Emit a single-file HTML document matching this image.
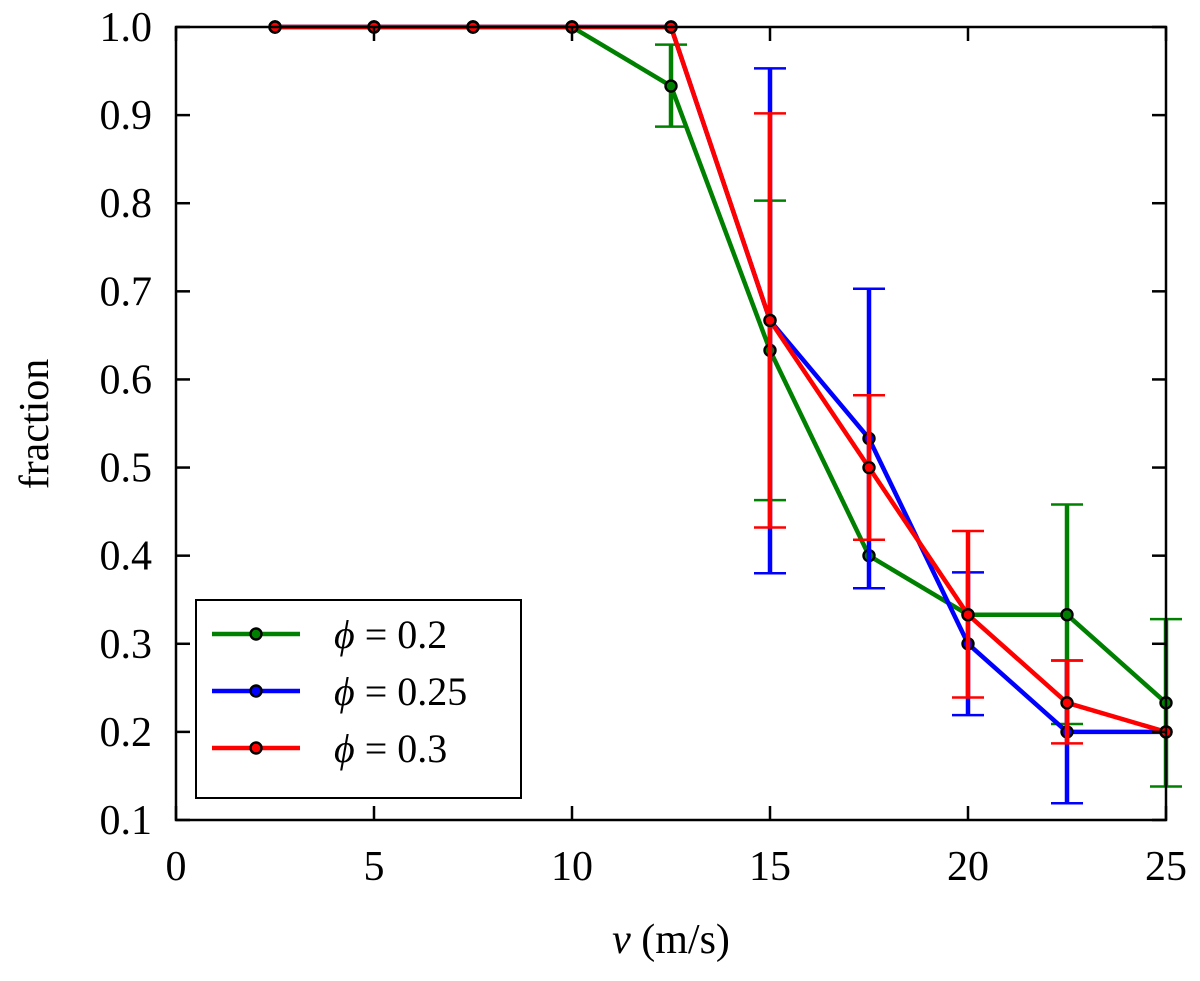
<!DOCTYPE html>
<html><head><meta charset="utf-8"><style>
html,body{margin:0;padding:0;background:#fff;}
svg{display:block;}
text{font-family:"Liberation Serif",serif;fill:#000;}
</style></head><body>
<svg id="chart" width="1200" height="981"></svg>
<script>
const xVals=[2.5,5,7.5,10,12.5,15,17.5,20,22.5,25];
const greenY=[1,1,1,1,0.933,0.633,0.4,0.333,0.333,0.233];
const greenLo=[1,1,1,1,0.887,0.463,0.4,0.333,0.209,0.138];
const greenHi=[1,1,1,1,0.98,0.803,0.4,0.333,0.458,0.328];
const blueY=[1,1,1,1,1,0.667,0.533,0.3,0.2,0.2];
const blueLo=[1,1,1,1,1,0.38,0.363,0.219,0.119,0.2];
const blueHi=[1,1,1,1,1,0.953,0.703,0.381,0.281,0.2];
const redY=[1,1,1,1,1,0.667,0.5,0.333,0.233,0.2];
const redLo=[1,1,1,1,1,0.432,0.418,0.239,0.187,0.2];
const redHi=[1,1,1,1,1,0.902,0.582,0.428,0.281,0.2];
const xTicks=[0,5,10,15,20,25];
const yTicks=[0.1,0.2,0.3,0.4,0.5,0.6,0.7,0.8,0.9,1.0];
const seriesNames=["0.2","0.25","0.3"];

const L=176,R=1166,T=27,B=820;
const sx=v=>L+(v-0)/(25-0)*(R-L);
const sy=v=>B-(v-0.1)/(1.0-0.1)*(B-T);
const svg=document.getElementById('chart');
const NS='http://www.w3.org/2000/svg';
function mk(tag,attrs,parent){const e=document.createElementNS(NS,tag);for(const k in attrs)e.setAttribute(k,attrs[k]);(parent||svg).appendChild(e);return e;}

const series=[
 {name:'phi-0-2',color:'#008000',y:greenY,lo:greenLo,hi:greenHi},
 {name:'phi-0-25',color:'#0000ff',y:blueY,lo:blueLo,hi:blueHi},
 {name:'phi-0-3',color:'#ff0000',y:redY,lo:redLo,hi:redHi}];

series.forEach(s=>{
 const g=mk('g',{});
 
 
 xVals.forEach((x,i)=>{
  if(s.hi[i]-s.lo[i]<0.001)return;
  const eb=mk('g',{},g);
  
  
  const cx=sx(x);
  mk('line',{x1:cx,x2:cx,y1:sy(s.lo[i]),y2:sy(s.hi[i]),stroke:s.color,'stroke-width':4.5},eb);
  mk('line',{x1:cx-16,x2:cx+16,y1:sy(s.lo[i]),y2:sy(s.lo[i]),stroke:s.color,'stroke-width':2.5},eb);
  mk('line',{x1:cx-16,x2:cx+16,y1:sy(s.hi[i]),y2:sy(s.hi[i]),stroke:s.color,'stroke-width':2.5},eb);
 });
 const pl=mk('polyline',{points:xVals.map((x,i)=>sx(x)+','+sy(s.y[i])).join(' '),fill:'none',stroke:s.color,'stroke-width':4.5,'stroke-linejoin':'round'},g);
 
 
 xVals.forEach((x,i)=>{
  const c=mk('circle',{cx:sx(x),cy:sy(s.y[i]),r:5.5,fill:s.color,stroke:'#000','stroke-width':2.4},g);
  
  
 });
});

const fr=mk('rect',{x:L,y:T,width:R-L,height:B-T,fill:'none',stroke:'#000','stroke-width':2.5});



xTicks.forEach(v=>{
 const x=sx(v);
 mk('line',{x1:x,x2:x,y1:B,y2:B-14,stroke:'#000','stroke-width':2.5});
 mk('line',{x1:x,x2:x,y1:T,y2:T+14,stroke:'#000','stroke-width':2.5});
 const t=mk('text',{x:x,y:B+60,'text-anchor':'middle','font-size':42});
 t.textContent=v;
 
 
});
yTicks.forEach(v=>{
 const y=sy(v);
 mk('line',{x1:L,x2:L+14,y1:y,y2:y,stroke:'#000','stroke-width':2.5});
 mk('line',{x1:R,x2:R-14,y1:y,y2:y,stroke:'#000','stroke-width':2.5});
 const t=mk('text',{x:L-24,y:y+14,'text-anchor':'end','font-size':42});
 t.textContent=v.toFixed(1);
 
 
});

const xt=mk('text',{x:671,y:953,'text-anchor':'middle','font-size':42});
xt.innerHTML='<tspan font-style="italic">v</tspan> (m/s)';


const yt=mk('text',{x:48,y:424,'text-anchor':'middle','font-size':42,transform:'rotate(-90 48 424)'});
yt.textContent='fraction';



const lg=mk('g',{});


mk('rect',{x:196,y:600,width:325,height:198,fill:'#fff',stroke:'#000','stroke-width':2},lg);
series.forEach((s,i)=>{
 const y=634+i*57;
 const e=mk('g',{},lg);
 
 
 mk('line',{x1:212,x2:300,y1:y,y2:y,stroke:s.color,'stroke-width':4.5},e);
 mk('circle',{cx:256,cy:y,r:5.5,fill:s.color,stroke:'#000','stroke-width':2.4},e);
 const t=mk('text',{x:334,y:y+14,'font-size':40},e);
 t.innerHTML='<tspan font-style="italic">\u03d5</tspan> = '+seriesNames[i];
});
</script>
</body></html>
